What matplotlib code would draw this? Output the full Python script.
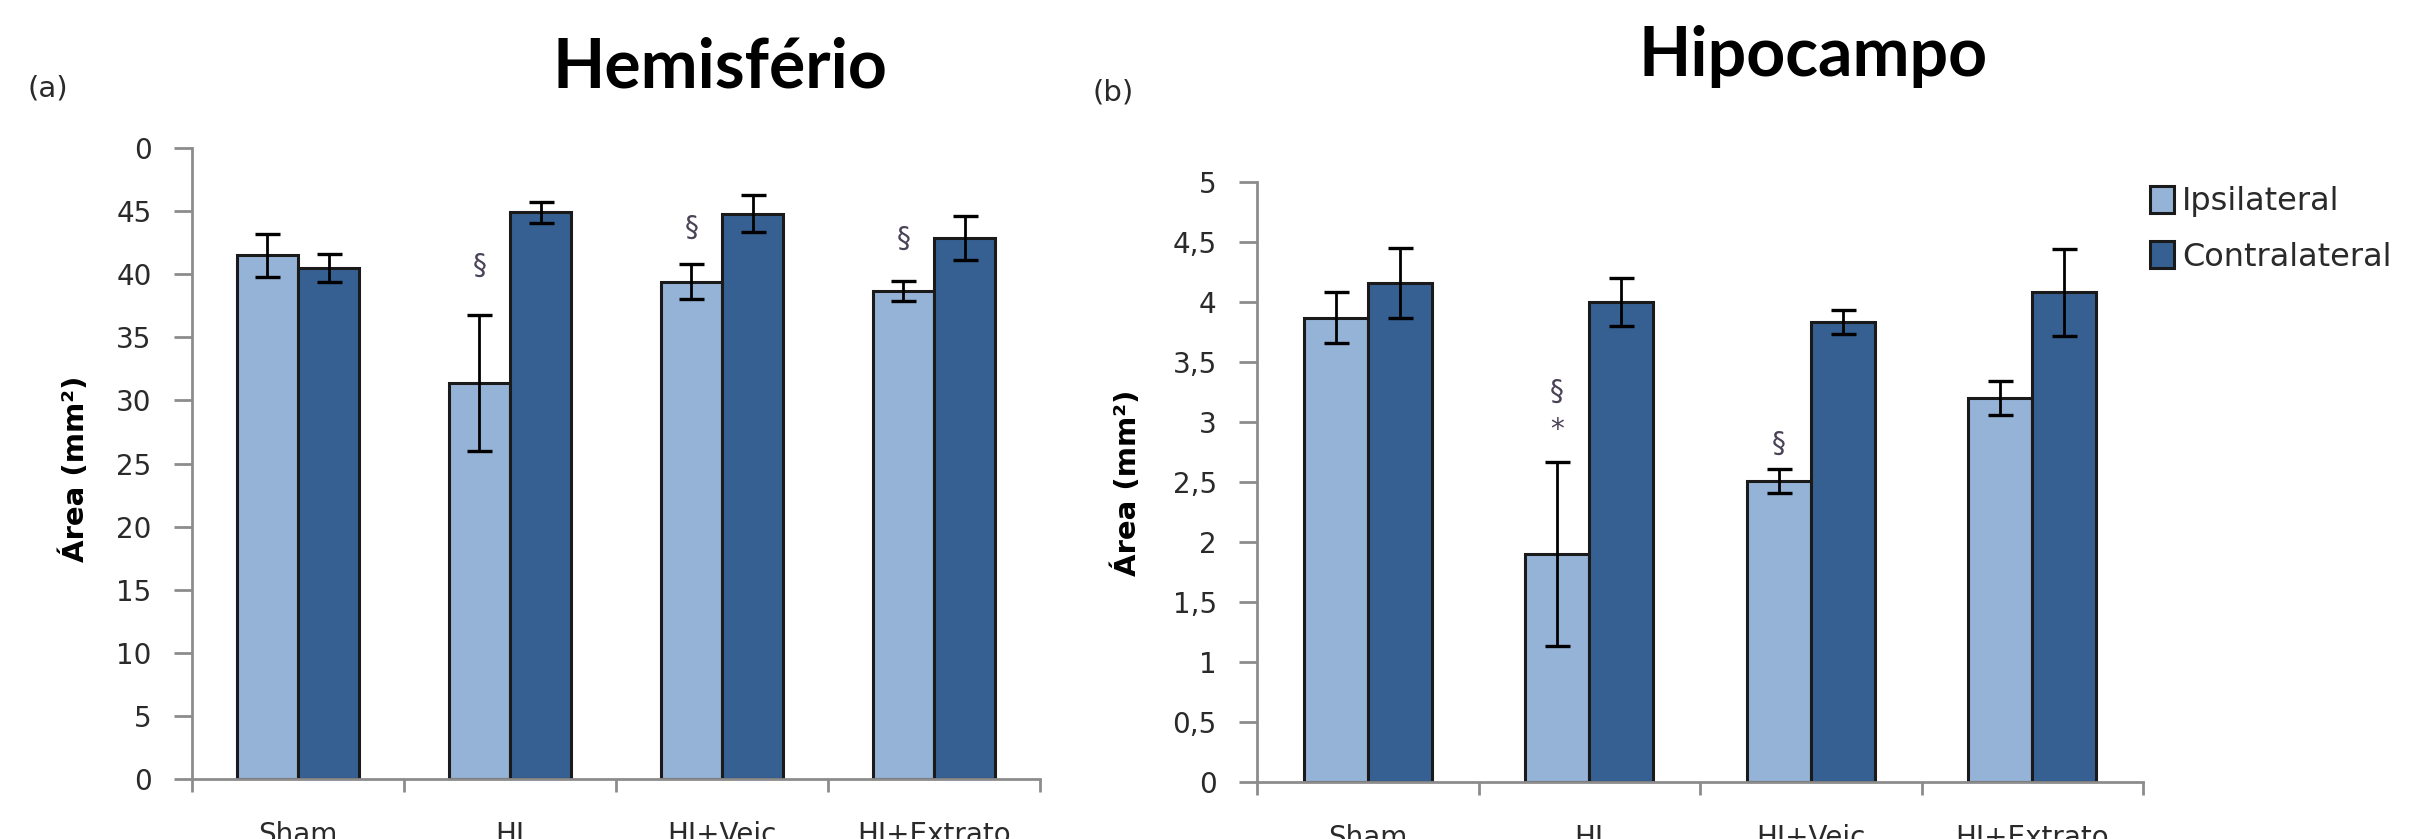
import numpy as np
import matplotlib
matplotlib.use("Agg")
import matplotlib.pyplot as plt
from matplotlib.patches import Patch

# group labels and series
groups = ["Sham", "HI", "HI+Veic", "HI+Extrato"]
series = ["Ipsilateral", "Contralateral"]

# hemisphere area (mm2): mean and error
hemi_ipsi = [41.5, 31.4, 39.4, 38.7]
hemi_ipsi_err = [1.7, 5.4, 1.4, 0.8]
hemi_contra = [40.5, 44.9, 44.8, 42.9]
hemi_contra_err = [1.1, 0.85, 1.45, 1.75]
hemi_ticks = [0, 5, 10, 15, 20, 25, 30, 35, 40, 45, 50]
hemi_ticklabels = ["0", "5", "10", "15", "20", "25", "30", "35", "40", "45", "0"]

# hippocampus area (mm2): mean and error
hipo_ipsi = [3.87, 1.90, 2.51, 3.20]
hipo_ipsi_err = [0.21, 0.77, 0.10, 0.14]
hipo_contra = [4.16, 4.00, 3.83, 4.08]
hipo_contra_err = [0.29, 0.20, 0.10, 0.36]
hipo_ticks = [0, 0.5, 1, 1.5, 2, 2.5, 3, 3.5, 4, 4.5, 5]
hipo_ticklabels = ["0", "0,5", "1", "1,5", "2", "2,5", "3", "3,5", "4", "4,5", "5"]

# significance marks: (group index, y position, symbol)
hemi_marks = [(1, 40.7, "§"), (2, 43.7, "§"), (3, 42.8, "§")]
hipo_marks = [(1, 3.25, "§"), (1, 2.93, "*"), (2, 2.82, "§")]

LIGHT = "#95b3d7"
DARK = "#366092"
EDGE = "#1a1a1a"
AXIS = "#8c8c8c"
TXT = "#2a2a2a"

W, H = 2416, 839
fig = plt.figure(figsize=(W / 100, H / 100), dpi=100)


def box(l, r, t, b):
    return [l / W, (H - b) / H, (r - l) / W, (b - t) / H]


def draw_panel(ax, ipsi, ipsi_err, contra, contra_err, top, ticks, ticklabels, marks):
    x = np.arange(len(groups))
    bw = 0.29
    ek = dict(ecolor="black", elinewidth=2, capsize=9, capthick=2.4)
    ax.bar(x - bw / 2, ipsi, bw, yerr=ipsi_err, color=LIGHT, edgecolor=EDGE,
           linewidth=2.2, error_kw=ek, label=series[0], zorder=2)
    ax.bar(x + bw / 2, contra, bw, yerr=contra_err, color=DARK, edgecolor=EDGE,
           linewidth=2.2, error_kw=ek, label=series[1], zorder=2)
    for gi, yy, sym in marks:
        ax.text(gi - bw / 2, yy, sym, ha="center", va="center", fontsize=20,
                color="#4a4256")
    ax.set_xlim(-0.5, len(groups) - 0.5)
    ax.set_ylim(0, top)
    ax.set_yticks(ticks)
    ax.set_yticklabels(ticklabels)
    ax.set_xticks(x)
    ax.set_xticklabels(groups)
    ax.set_xticks(np.arange(len(groups) + 1) - 0.5, minor=True)
    for s in ["top", "right"]:
        ax.spines[s].set_visible(False)
    for s in ["left", "bottom"]:
        ax.spines[s].set_color(AXIS)
        ax.spines[s].set_linewidth(2)
    ax.tick_params(axis="y", direction="out", length=13, width=2, color=AXIS,
                   labelsize=20, labelcolor=TXT, pad=16)
    ax.tick_params(axis="x", which="major", length=0, labelsize=20,
                   labelcolor=TXT, pad=30)
    ax.tick_params(axis="x", which="minor", direction="out", length=9, width=2,
                   color=AXIS)


ax_a = fig.add_axes(box(192, 1040, 148, 779))
draw_panel(ax_a, hemi_ipsi, hemi_ipsi_err, hemi_contra, hemi_contra_err,
           50, hemi_ticks, hemi_ticklabels, hemi_marks)

ax_b = fig.add_axes(box(1257, 2143, 182, 782))
draw_panel(ax_b, hipo_ipsi, hipo_ipsi_err, hipo_contra, hipo_contra_err,
           5, hipo_ticks, hipo_ticklabels, hipo_marks)

# titles, panel letters and axis labels
fig.text(720 / W, 1 - 88 / H, "Hemisfério", ha="center", va="baseline",
         fontsize=49, fontweight="bold", family="Lato", color="black")
fig.text(1813 / W, 1 - 76 / H, "Hipocampo", ha="center", va="baseline",
         fontsize=49, fontweight="bold", family="Lato", color="black")
fig.text(48 / W, 1 - 89 / H, "(a)", ha="center", va="center", fontsize=21,
         color=TXT)
fig.text(1113 / W, 1 - 93 / H, "(b)", ha="center", va="center", fontsize=21,
         color=TXT)
fig.text(75 / W, 1 - 469 / H, "Área (mm²)", rotation=90, ha="center",
         va="center", fontsize=21, fontweight="bold", color="black")
fig.text(1127 / W, 1 - 483 / H, "Área (mm²)", rotation=90, ha="center",
         va="center", fontsize=21, fontweight="bold", color="black")

handles = [Patch(facecolor=LIGHT, edgecolor=EDGE, linewidth=2.2),
           Patch(facecolor=DARK, edgecolor=EDGE, linewidth=2.2)]
leg = fig.legend(handles, series, loc="upper left",
                 bbox_to_anchor=(2150 / W, 1 - 186 / H),
                 bbox_transform=fig.transFigure, frameon=False, fontsize=23,
                 handlelength=0.75, handleheight=0.9, handletextpad=0.25,
                 labelspacing=0.75, borderaxespad=0, borderpad=0)
for t in leg.get_texts():
    t.set_color(TXT)

fig.savefig("out.png", dpi=100, facecolor="white")
